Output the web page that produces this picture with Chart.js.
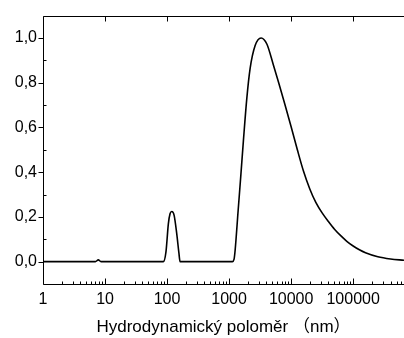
<!DOCTYPE html>
<html>
<head>
<meta charset="utf-8">
<script src="https://cdn.jsdelivr.net/npm/chart.js@4.4.1/dist/chart.umd.min.js"></script>
<style>
html,body{margin:0;padding:0;background:#fff;}
#wrap{width:404px;height:338px;position:relative;}
</style>
</head>
<body>
<div id="wrap"><canvas id="c" width="404" height="338"></canvas></div>
<script>
// Data (x: hydrodynamic radius in nm, y: normalized intensity)
const radius = [1, 7, 7.8, 8.6, 87, 96, 105, 112, 119, 130, 143, 155, 162, 1130, 1200, 1250, 1400, 1550, 1700, 1930, 2180, 2630, 3280, 4060, 5190, 6300, 7900, 10000, 12600, 15800, 20000, 25000, 31600, 40000, 50000, 63000, 79000, 100000, 126000, 158000, 250000, 400000, 660000];
const intensity = [0, 0, 0.008, 0, 0, 0.044, 0.17, 0.215, 0.224, 0.207, 0.126, 0.04, 0, 0, 0.01, 0.05, 0.23, 0.39, 0.54, 0.73, 0.863, 0.966, 1.0, 0.973, 0.878, 0.80, 0.705, 0.603, 0.50, 0.405, 0.325, 0.265, 0.218, 0.179, 0.145, 0.116, 0.091, 0.07, 0.053, 0.04, 0.022, 0.012, 0.006];
const xTicks = [1, 10, 100, 1000, 10000, 100000];
const xTickLabels = ["1", "10", "100", "1000", "10000", "100000"];
const yTicks = [0, 0.2, 0.4, 0.6, 0.8, 1.0];
const yTickLabels = ["0,0", "0,2", "0,4", "0,6", "0,8", "1,0"];
const xTitle = "Hydrodynamický poloměr （nm）";

const FONT = "'Liberation Sans', Arial, 'Noto Sans CJK SC', sans-serif";

const framePlugin = {
  id: 'frame',
  afterDraw(chart) {
    const ctx = chart.ctx;
    const a = chart.chartArea;
    const xs = chart.scales.x, ys = chart.scales.y;
    ctx.save();
    ctx.strokeStyle = '#000';
    ctx.lineWidth = 1;
    ctx.beginPath();
    const L = Math.round(a.left) + 0.5, T = Math.round(a.top) + 0.5, B = Math.round(a.bottom) + 0.5;
    ctx.moveTo(L, T); ctx.lineTo(L, B);
    ctx.moveTo(L, B); ctx.lineTo(a.right, B);
    ctx.moveTo(L, T); ctx.lineTo(a.right, T);
    yTicks.forEach(v => { const p = Math.round(ys.getPixelForValue(v)) + 0.5; ctx.moveTo(L - 5, p); ctx.lineTo(L, p); });
    [0.1, 0.3, 0.5, 0.7, 0.9].forEach(v => { const p = Math.round(ys.getPixelForValue(v)) + 0.5; ctx.moveTo(L, p); ctx.lineTo(L + 3, p); });
    for (let d = 1; d <= 1e6; d *= 10) {
      for (let m = 1; m <= 9; m++) {
        const v = d * m;
        if (v < xs.min || v > xs.max) continue;
        const p = Math.round(xs.getPixelForValue(v)) + 0.5;
        if (m === 1) {
          ctx.moveTo(p, B); ctx.lineTo(p, B - 6);
          ctx.moveTo(p, T); ctx.lineTo(p, T + 5);
        } else {
          ctx.moveTo(p, B); ctx.lineTo(p, B - 3);
        }
      }
    }
    ctx.stroke();
    ctx.restore();
  }
};

new Chart(document.getElementById('c'), {
  type: 'line',
  data: {
    datasets: [{
      data: radius.map((r, i) => ({ x: r, y: intensity[i] })),
      borderColor: '#000',
      borderWidth: 1.6,
      pointRadius: 0,
      fill: false,
      cubicInterpolationMode: 'monotone'
    }]
  },
  options: {
    responsive: false,
    animation: false,
    devicePixelRatio: 1,
    layout: { padding: { top: 13, right: 0, left: 0, bottom: 0 } },
    plugins: { legend: { display: false }, tooltip: { enabled: false } },
    scales: {
      x: {
        type: 'logarithmic',
        min: 1,
        max: 660000,
        grid: { display: false, drawTicks: false },
        border: { display: false },
        afterBuildTicks: s => { s.ticks = xTicks.map(v => ({ value: v })); },
        afterFit: s => { s.height = 54; },
        ticks: {
          autoSkip: false, maxRotation: 0, padding: 6,
          color: '#000',
          font: { family: FONT, size: 16 },
          callback: (v) => { const i = xTicks.indexOf(v); return i >= 0 ? xTickLabels[i] : ''; }
        },
        title: {
          display: true, text: xTitle, color: '#000',
          font: { family: FONT, size: 17 },
          padding: { top: 5, bottom: 0 }
        }
      },
      y: {
        min: -0.1,
        max: 1.1,
        grid: { display: false, drawTicks: false },
        border: { display: false },
        afterBuildTicks: s => { s.ticks = yTicks.map(v => ({ value: v })); },
        afterFit: s => { s.width = 43; },
        ticks: {
          padding: 6,
          color: '#000',
          font: { family: FONT, size: 16 },
          callback: (v) => { const i = yTicks.findIndex(t => Math.abs(t - v) < 1e-9); return i >= 0 ? yTickLabels[i] : ''; }
        }
      }
    }
  },
  plugins: [framePlugin]
});
</script>
</body>
</html>
